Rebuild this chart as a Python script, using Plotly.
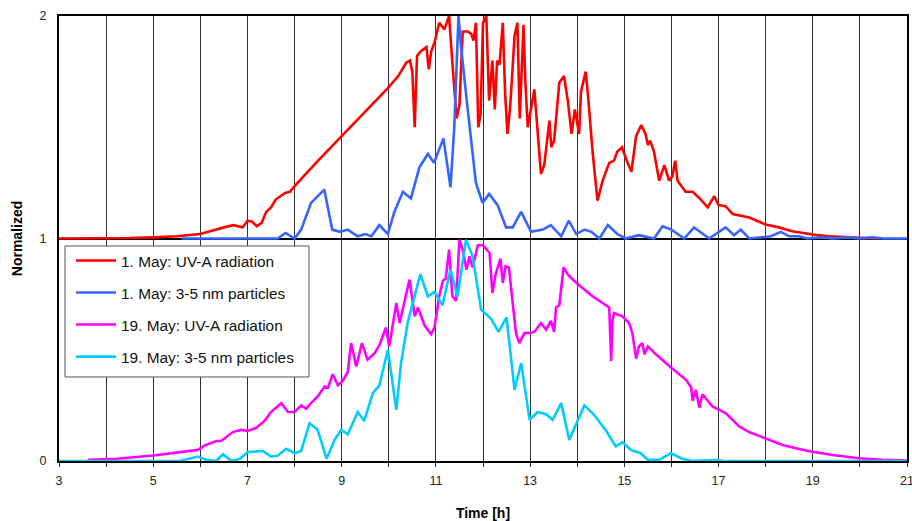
import plotly.graph_objects as go

# ---- data (normalized values) ----
may1_uv_t = [3.0, 4.0, 4.5, 5.0, 5.5, 6.0, 6.3, 6.5, 6.7, 6.9, 7.0, 7.1, 7.2, 7.3, 7.4, 7.5, 7.6, 7.7, 7.8, 7.9,
             8.0, 8.5, 9.0, 9.5, 9.8, 10.0, 10.2, 10.37, 10.45, 10.5, 10.55, 10.6, 10.67, 10.8, 10.85, 10.9,
             10.97, 11.07, 11.18, 11.28, 11.36, 11.44, 11.5, 11.57, 11.68, 11.75, 11.8, 11.85, 11.9, 11.95,
             12.0, 12.07, 12.13, 12.2, 12.25, 12.3, 12.35, 12.42, 12.47, 12.52, 12.58, 12.67, 12.73, 12.78,
             12.86, 12.9, 12.95, 13.02, 13.09, 13.16, 13.23, 13.3, 13.37, 13.41, 13.45, 13.51, 13.62, 13.72,
             13.8, 13.88, 13.95, 14.04, 14.08, 14.15, 14.18, 14.23, 14.33, 14.43, 14.54, 14.68, 14.78, 14.85,
             14.95, 15.05, 15.15, 15.25, 15.36, 15.45, 15.5, 15.55, 15.63, 15.74, 15.85, 15.95, 16.02, 16.08,
             16.13, 16.3, 16.45, 16.6, 16.77, 16.91, 17.0, 17.15, 17.3, 17.65, 18.0, 18.28, 18.56, 19.0,
             19.34, 19.98, 20.4]
may1_uv_v = [0.0, 0.0, 0.002, 0.005, 0.01, 0.02, 0.04, 0.05, 0.06, 0.05, 0.08, 0.075, 0.055, 0.07, 0.12, 0.14,
             0.175, 0.19, 0.205, 0.21, 0.235, 0.35, 0.46, 0.57, 0.64, 0.68, 0.73, 0.79, 0.80, 0.75, 0.50, 0.82,
             0.84, 0.86, 0.76, 0.84, 0.88, 0.97, 0.94, 1.0, 0.76, 0.54, 0.60, 0.93, 0.93, 0.92, 0.89, 0.97,
             0.50, 0.56, 0.97, 1.0, 0.62, 0.80, 0.58, 0.80, 0.78, 0.97, 0.65, 0.47, 0.60, 0.91, 0.97, 0.54,
             0.96, 0.70, 0.50, 0.58, 0.67, 0.48, 0.29, 0.33, 0.45, 0.53, 0.41, 0.44, 0.70, 0.73, 0.62, 0.47,
             0.58, 0.47, 0.66, 0.72, 0.75, 0.64, 0.38, 0.17, 0.26, 0.34, 0.35, 0.39, 0.41, 0.35, 0.30, 0.46,
             0.51, 0.47, 0.42, 0.44, 0.39, 0.26, 0.33, 0.26, 0.28, 0.35, 0.26, 0.21, 0.21, 0.18, 0.14, 0.19,
             0.15, 0.145, 0.11, 0.094, 0.063, 0.05, 0.033, 0.018, 0.01, 0.003, 0.0]

may1_pn_t = [5.6, 7.64, 7.81, 8.0, 8.14, 8.35, 8.63, 8.8, 8.97, 9.13, 9.34, 9.5, 9.63, 9.8, 9.98, 10.12, 10.3,
             10.47, 10.65, 10.83, 10.96, 11.16, 11.31, 11.39, 11.48, 11.53, 11.67, 11.85, 11.99, 12.13, 12.31,
             12.49, 12.63, 12.81, 13.02, 13.27, 13.44, 13.66, 13.82, 13.98, 14.15, 14.3, 14.47, 14.65, 14.85,
             15.03, 15.31, 15.63, 15.81, 16.0, 16.27, 16.48, 16.8, 17.15, 17.33, 17.47, 17.65, 17.9, 18.11,
             18.32, 18.5, 18.71, 18.88, 19.17, 19.42, 19.77, 19.98, 20.27, 20.5, 21.0]
may1_pn_v = [0.0, 0.0, 0.025, 0.0, 0.04, 0.16, 0.22, 0.04, 0.03, 0.04, 0.01, 0.02, 0.01, 0.06, 0.02, 0.12, 0.21,
             0.18, 0.32, 0.38, 0.34, 0.45, 0.23, 0.50, 1.0, 0.87, 0.59, 0.25, 0.16, 0.20, 0.15, 0.05, 0.05,
             0.12, 0.03, 0.04, 0.06, 0.01, 0.08, 0.02, 0.04, 0.03, 0.0, 0.06, 0.02, 0.0, 0.015, 0.0, 0.055,
             0.04, 0.0, 0.05, 0.0, 0.05, 0.015, 0.04, 0.0, 0.005, 0.01, 0.03, 0.01, 0.01, 0.0, 0.005, 0.0,
             0.005, 0.0, 0.005, 0.0, 0.0]

may19_uv_t = [3.62, 4.22, 5.0, 5.56, 5.95, 6.09, 6.34, 6.44, 6.69, 6.87, 7.01, 7.19, 7.36, 7.5, 7.72, 7.86, 8.0,
              8.14, 8.25, 8.35, 8.49, 8.64, 8.71, 8.81, 8.92, 9.02, 9.13, 9.2, 9.31, 9.43, 9.55, 9.7, 9.8,
              9.94, 10.01, 10.16, 10.23, 10.44, 10.55, 10.62, 10.76, 10.9, 10.97, 11.07, 11.15, 11.21, 11.28,
              11.35, 11.43, 11.5, 11.57, 11.65, 11.71, 11.78, 11.89, 12.0, 12.14, 12.2, 12.27, 12.37, 12.42,
              12.48, 12.55, 12.63, 12.7, 12.77, 12.88, 12.98, 13.09, 13.23, 13.34, 13.44, 13.51, 13.55, 13.62,
              13.71, 13.83, 14.04, 14.33, 14.54, 14.68, 14.72, 14.75, 14.78, 14.96, 15.1, 15.17, 15.25, 15.31,
              15.38, 15.43, 15.5, 15.67, 15.99, 16.31, 16.42, 16.45, 16.52, 16.59, 16.66, 16.87, 17.15, 17.3,
              17.44, 17.65, 18.0, 18.36, 18.71, 18.99, 19.42, 19.98, 20.48, 21.0]
may19_uv_v = [0.005, 0.01, 0.025, 0.04, 0.05, 0.07, 0.09, 0.09, 0.13, 0.14, 0.135, 0.15, 0.18, 0.22, 0.26, 0.22,
              0.22, 0.25, 0.235, 0.26, 0.29, 0.335, 0.33, 0.39, 0.34, 0.36, 0.40, 0.53, 0.425, 0.53, 0.455,
              0.485, 0.52, 0.60, 0.515, 0.71, 0.62, 0.815, 0.65, 0.69, 0.61, 0.57, 0.60, 0.74, 0.81, 0.82, 0.95,
              0.74, 0.72, 0.995, 0.95, 0.86, 0.92, 0.87, 0.97, 0.97, 0.935, 0.755, 0.84, 0.91, 0.80, 0.875, 0.87,
              0.71, 0.575, 0.53, 0.575, 0.575, 0.58, 0.62, 0.59, 0.63, 0.58, 0.69, 0.70, 0.87, 0.83, 0.79, 0.74,
              0.71, 0.69, 0.45, 0.63, 0.665, 0.65, 0.62, 0.575, 0.46, 0.515, 0.53, 0.48, 0.515, 0.48, 0.42,
              0.365, 0.33, 0.27, 0.32, 0.24, 0.30, 0.245, 0.215, 0.185, 0.155, 0.13, 0.10, 0.072, 0.054, 0.042,
              0.027, 0.012, 0.005, 0.002]

may19_pn_t = [3.0, 5.56, 5.95, 6.13, 6.34, 6.48, 6.66, 6.84, 7.01, 7.33, 7.5, 7.65, 7.82, 8.0, 8.14, 8.32, 8.49,
              8.68, 8.85, 8.99, 9.13, 9.34, 9.48, 9.66, 9.8, 9.98, 10.16, 10.26, 10.4, 10.5, 10.67, 10.83,
              10.97, 11.14, 11.31, 11.46, 11.64, 11.78, 11.96, 12.17, 12.33, 12.5, 12.67, 12.81, 12.99, 13.16,
              13.34, 13.48, 13.66, 13.83, 14.15, 14.35, 14.6, 14.82, 14.96, 15.14, 15.35, 15.5, 15.74, 15.99,
              16.23, 16.45, 16.97, 17.1, 21.0]
may19_pn_v = [0.0, 0.0, 0.02, 0.005, 0.0, 0.03, 0.0, 0.01, 0.04, 0.045, 0.02, 0.025, 0.055, 0.035, 0.045, 0.17,
              0.14, 0.01, 0.095, 0.14, 0.12, 0.22, 0.18, 0.305, 0.34, 0.50, 0.23, 0.44, 0.62, 0.70, 0.84, 0.74,
              0.76, 0.70, 0.86, 0.74, 0.995, 0.92, 0.68, 0.64, 0.58, 0.645, 0.32, 0.44, 0.185, 0.22, 0.21, 0.185,
              0.26, 0.095, 0.25, 0.21, 0.14, 0.065, 0.085, 0.05, 0.035, 0.005, 0.005, 0.035, 0.01, 0.0, 0.005,
              0.0, 0.0]

series_names = ["1. May: UV-A radiation", "1. May: 3-5 nm particles",
                "19. May: UV-A radiation", "19. May: 3-5 nm particles"]
series_colors = ["#FF0000", "#3366FF", "#FF00FF", "#00CCFF"]
series_offset = [1, 1, 0, 0]   # 1. May curves are stacked on top of the 19. May curves
series_t = [may1_uv_t, may1_pn_t, may19_uv_t, may19_pn_t]
series_v = [may1_uv_v, may1_pn_v, may19_uv_v, may19_pn_v]

x_ticks = list(range(3, 22))
x_tick_text = [str(h) if h % 2 == 1 else "" for h in x_ticks]
y_ticks = [0, 1, 2]

fig = go.Figure()
for name, col, off, t, v in zip(series_names, series_colors, series_offset, series_t, series_v):
    fig.add_trace(go.Scatter(
        x=t, y=[val + off for val in v], mode="lines", name=name, legendgroup=name,
        line=dict(color=col, width=2.6),
    ))

# legend frame (drawn as a paper-referenced box behind the legend entries)
fig.add_shape(type="rect", xref="paper", yref="paper",
              x0=0.0071, x1=0.2948, y0=0.1888, y1=0.4831,
              fillcolor="white", line=dict(color="#555", width=1), layer="above")

font_family = "Arial, 'Liberation Sans', sans-serif"
fig.update_layout(
    width=912, height=521,
    margin=dict(l=59, r=5, t=16, b=60),
    paper_bgcolor="white", plot_bgcolor="white",
    font=dict(family=font_family, size=12.5, color="#222"),
    showlegend=True,
    legend=dict(
        x=0.0142, y=0.4876, xanchor="left", yanchor="top",
        bgcolor="rgba(0,0,0,0)", borderwidth=0,
        font=dict(family=font_family, size=15.4, color="#111"),
        tracegroupgap=9, itemwidth=40,
    ),
    xaxis=dict(
        range=[3, 21], tickvals=x_ticks, ticktext=x_tick_text,
        showgrid=True, gridcolor="#333", gridwidth=1,
        showline=True, linecolor="black", linewidth=2, mirror=True,
        ticks="outside", ticklen=4, tickcolor="#333",
        zeroline=False, automargin=False, ticklabelstandoff=3, ticklabeloverflow="allow",
        title=dict(text="<b>Time [h]</b>", font=dict(size=14, color="black"), standoff=22),
    ),
    yaxis=dict(
        range=[0, 2], tickvals=y_ticks,
        showgrid=True, gridcolor="black", gridwidth=2,
        showline=True, linecolor="black", linewidth=2, mirror=True,
        ticks="", zeroline=False, automargin=False, ticklabelstandoff=8,
        title=dict(text="<b>Normalized</b>", font=dict(size=14, color="black"), standoff=14),
    ),
)

fig.write_html("out.html", config={"displayModeBar": False},
               post_script="document.body.style.margin='0px';")
